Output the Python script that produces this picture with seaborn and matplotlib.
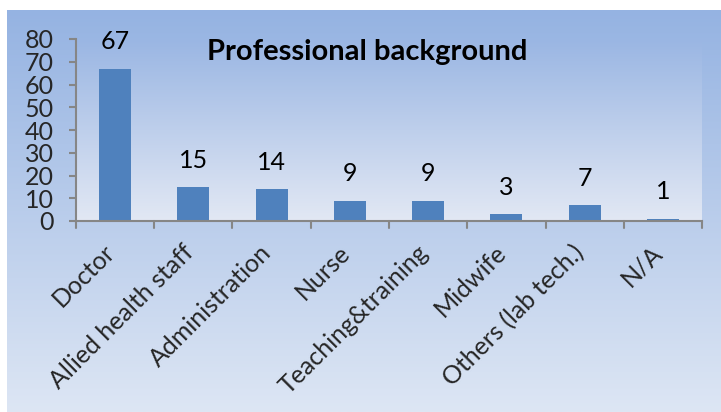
import numpy as np
import pandas as pd
import matplotlib
matplotlib.use("Agg")
import matplotlib.pyplot as plt
import matplotlib.transforms as mtransforms
from matplotlib.colors import LinearSegmentedColormap
import seaborn as sns

categories = ["Doctor", "Allied health staff", "Administration", "Nurse",
              "Teaching&training", "Midwife", "Others (lab tech.)", "N/A"]
counts = [67, 15, 14, 9, 9, 3, 7, 1]
y_ticks = [0, 10, 20, 30, 40, 50, 60, 70, 80]
title = "Professional background"

sns.set_style("ticks")
plt.rcParams["font.family"] = ["Lato", "DejaVu Sans"]

W, H = 721, 412
fig = plt.figure(figsize=(W / 100, H / 100), dpi=100, facecolor="white")

# Chart-area gradient background
bg = fig.add_axes([7 / W, 0, 1 - 7 / W, 1 - 10 / H], zorder=0)
outer_cmap = LinearSegmentedColormap.from_list("outer", ["#dde6f4", "#95b3e2"])
bg.imshow(np.linspace(0, 1, 256).reshape(-1, 1)[::-1], cmap=outer_cmap,
          aspect="auto", extent=[0, 1, 0, 1])
bg.set_axis_off()

# Plot area
x0, x1, y_top, y_bot = 76, 702, 39, 221
ax = fig.add_axes([x0 / W, (H - y_bot) / H, (x1 - x0) / W, (y_bot - y_top) / H], zorder=1)
ax.set_facecolor("none")

df = pd.DataFrame({"category": categories, "count": counts})
sns.barplot(data=df, x="category", y="count", color="#4f81bd", width=0.41,
            saturation=1, linewidth=0, edgecolor="none", ax=ax, zorder=3)

ax.set_xlim(-0.5, len(categories) - 0.5)
ax.set_ylim(0, 80)

inner_cmap = LinearSegmentedColormap.from_list("inner", ["#e2e8f4", "#9ab6e3"])
ax.imshow(np.linspace(0, 1, 256).reshape(-1, 1)[::-1], cmap=inner_cmap,
          aspect="auto", extent=[-0.5, len(categories) - 0.5, 0, 80], zorder=0)

for i, v in enumerate(counts):
    ax.annotate(str(v), (i, v), xytext=(0, 11), textcoords="offset points",
                ha="center", va="bottom", fontsize=18, color="black")

ax.set_yticks(y_ticks)
ax.set_yticklabels([str(t) for t in y_ticks], fontsize=18)
ax.tick_params(axis="y", length=5, width=1.5, color="#868686", pad=11)

ax.set_xticks(range(len(categories)))
ax.set_xticklabels(categories, rotation=45, ha="right", fontsize=18)
ax.tick_params(axis="x", length=0, pad=14)
shift = mtransforms.ScaledTranslation(3 / 72, 0, fig.dpi_scale_trans)
for lbl in ax.get_xticklabels():
    lbl.set_transform(lbl.get_transform() + shift)
for b in np.arange(-0.5, len(categories), 1.0):
    ax.plot([b, b], [0, -3.2], color="#868686", lw=1.5, clip_on=False, zorder=4)

for side in ["top", "right"]:
    ax.spines[side].set_visible(False)
for side in ["left", "bottom"]:
    ax.spines[side].set_color("#868686")
    ax.spines[side].set_linewidth(1.5)
    ax.spines[side].set_zorder(4)

ax.set_xlabel("")
ax.set_ylabel("")
ax.text(0.465, 0.93, title, transform=ax.transAxes, ha="center", va="center",
        fontsize=21, fontweight="bold", color="black")

fig.savefig("out.png", dpi=100, facecolor="white")
